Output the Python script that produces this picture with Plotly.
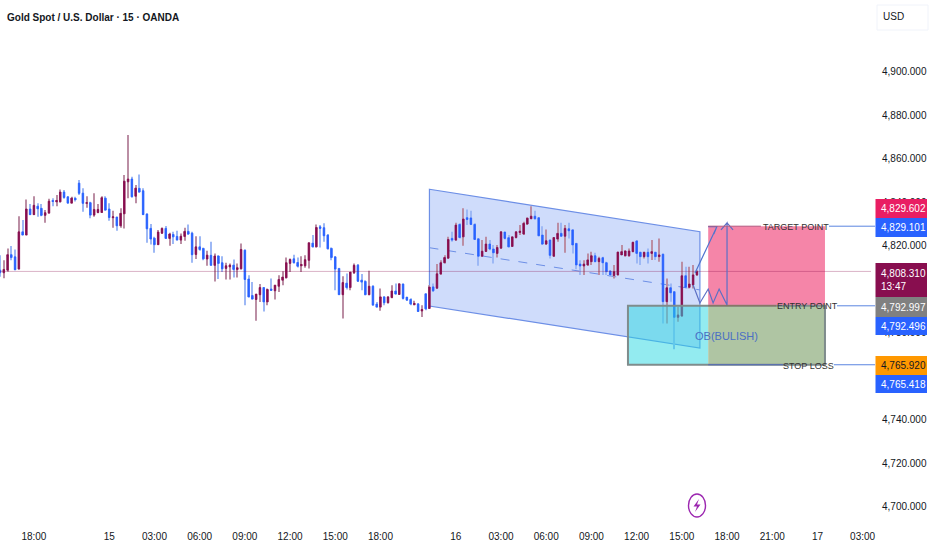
import plotly.graph_objects as go

# 15 min candles (bar index = position on the time axis)
opens = [4808.9,4807.7,4808.9,4816.0,4815.0,4809.4,4826.5,4825.0,4837.0,4834.4,4838.3,4837.3,4834.1,4835.1,4840.9,4840.3,4840.3,4844.8,4842.6,4839.7,
         4841.9,4848.9,4844.3,4839.6,4839.9,4834.2,4835.4,4835.4,4842.0,4837.0,4833.0,4833.3,4829.3,4834.8,4849.5,4850.8,4842.9,4846.5,4845.4,4834.7,
         4828.1,4823.6,4820.6,4825.9,4828.1,4823.5,4825.3,4824.4,4822.7,4824.4,4826.7,4825.9,4816.1,4819.6,4818.9,4814.0,4815.7,4811.1,4815.4,4812.3,
         4809.7,4810.4,4811.2,4809.2,4809.5,4818.1,4804.8,4797.2,4795.4,4797.6,4800.9,4794.3,4800.2,4799.4,4801.5,4804.3,4805.4,4812.0,4814.1,4812.4,
         4810.9,4810.9,4813.4,4821.3,4819.6,4828.8,4828.4,4825.0,4818.9,4815.0,4809.7,4797.6,4802.9,4800.9,4807.7,4811.2,4804.3,4803.7,4797.6,4801.5,
         4793.3,4791.9,4796.6,4793.9,4796.3,4799.3,4797.7,4802.5,4796.5,4795.4,4793.0,4793.4,4790.1,4798.0,4791.3,4801.2,4800.6,4807.1,4812.3,4814.4,
         4823.5,4822.7,4829.9,4824.2,4833.0,4832.9,4829.9,4823.3,4815.3,4817.5,4820.9,4818.6,4816.6,4819.0,4826.4,4823.8,4819.8,4823.9,4826.2,4825.5,
         4830.1,4832.5,4833.7,4833.0,4825.0,4820.9,4822.7,4815.3,4823.2,4825.8,4824.5,4827.9,4827.4,4821.2,4811.7,4810.8,4811.3,4812.8,4815.5,4812.8,
         4814.6,4812.3,4808.5,4806.4,4806.7,4815.9,4815.5,4815.5,4817.4,4822.3,4817.1,4815.1,4817.1,4816.6,4817.1,4815.1,4816.2,4794.4,4800.8,4799.0,
         4787.2,4787.8,4806.3,4801.0,4802.1,4806.7]
highs = [4815.8,4813.5,4818.9,4820.0,4818.4,4833.7,4831.9,4841.4,4839.3,4842.9,4839.6,4839.3,4836.5,4841.7,4841.9,4843.4,4846.0,4845.7,4842.9,4842.6,
         4842.6,4850.3,4846.5,4842.9,4840.3,4844.2,4839.3,4842.9,4842.9,4839.6,4836.2,4833.4,4837.3,4852.6,4871.0,4851.8,4848.0,4852.9,4846.5,4835.0,
         4830.1,4824.2,4827.3,4828.5,4829.2,4826.1,4826.5,4827.0,4825.8,4828.4,4829.9,4826.5,4824.5,4824.5,4819.2,4817.8,4821.9,4816.6,4815.8,4815.3,
         4812.3,4812.0,4813.8,4812.0,4821.2,4818.4,4806.6,4803.5,4797.9,4802.5,4800.9,4800.5,4805.1,4802.0,4806.6,4808.4,4814.7,4814.3,4816.0,4814.7,
         4815.3,4815.8,4821.5,4825.0,4829.9,4829.6,4830.4,4825.5,4819.3,4815.3,4809.7,4806.1,4807.4,4808.1,4812.0,4811.7,4807.1,4804.3,4808.6,4801.9,
         4794.3,4800.5,4796.9,4796.9,4802.0,4802.8,4802.8,4802.8,4796.6,4796.0,4794.8,4793.6,4792.8,4798.2,4802.0,4802.8,4811.7,4813.5,4815.8,4824.2,
         4826.5,4830.7,4830.4,4837.3,4836.8,4836.2,4830.4,4823.5,4822.7,4824.2,4822.7,4820.4,4820.4,4826.8,4826.5,4825.0,4824.2,4826.8,4829.6,4831.1,
         4833.1,4838.3,4836.2,4833.1,4829.1,4827.6,4823.0,4823.9,4830.7,4830.7,4829.6,4830.7,4827.7,4821.2,4813.5,4813.5,4816.6,4817.4,4816.9,4815.1,
         4815.1,4812.8,4808.9,4811.3,4817.4,4820.4,4818.1,4818.9,4822.0,4822.8,4817.4,4817.4,4818.9,4822.8,4817.4,4823.5,4816.6,4805.1,4802.8,4799.0,
         4792.1,4812.8,4810.5,4810.5,4811.3,4808.9]
lows = [4805.9,4805.2,4808.2,4813.5,4808.9,4809.2,4825.0,4825.0,4834.2,4834.2,4833.4,4833.7,4830.7,4835.0,4838.3,4838.3,4840.0,4841.7,4839.6,4839.6,
        4840.5,4843.4,4835.7,4837.6,4832.7,4833.4,4835.0,4835.3,4836.2,4831.6,4828.4,4827.0,4828.4,4828.1,4841.9,4842.3,4839.6,4844.5,4834.2,4821.5,
        4820.7,4816.9,4820.4,4825.5,4823.2,4820.1,4820.9,4822.6,4820.9,4822.4,4825.0,4812.3,4814.0,4817.8,4813.5,4810.9,4810.9,4803.7,4804.8,4808.1,
        4804.6,4804.6,4805.5,4805.5,4809.2,4792.8,4796.3,4795.4,4785.6,4794.3,4789.9,4792.7,4799.3,4795.4,4798.9,4802.0,4805.1,4808.1,4812.0,4810.1,
        4808.1,4810.0,4809.7,4819.3,4819.3,4819.3,4821.9,4818.4,4813.5,4799.7,4797.6,4786.7,4800.0,4799.7,4807.1,4803.5,4799.7,4797.4,4797.4,4792.7,
        4791.7,4790.2,4792.8,4793.6,4796.0,4797.7,4797.6,4795.4,4794.8,4792.8,4792.8,4789.7,4787.4,4790.5,4791.0,4798.9,4800.3,4806.8,4812.0,4814.1,
        4821.9,4822.4,4823.5,4820.1,4829.6,4829.6,4822.7,4810.9,4815.0,4817.2,4818.1,4812.0,4814.7,4818.7,4823.0,4819.3,4819.6,4823.5,4825.0,4825.0,
        4829.6,4832.4,4832.2,4824.5,4820.4,4820.4,4814.3,4815.0,4821.9,4824.2,4816.9,4823.5,4816.6,4809.3,4806.7,4806.7,4810.8,4811.3,4812.5,4806.7,
        4806.7,4806.7,4805.9,4805.1,4806.4,4815.9,4815.2,4815.1,4817.1,4812.0,4811.3,4814.3,4812.0,4813.6,4813.6,4812.8,4784.4,4784.4,4794.4,4772.5,
        4785.2,4787.5,4800.5,4800.5,4800.5,4806.2]
closes = [4807.7,4809.2,4816.0,4814.7,4809.1,4826.5,4825.0,4837.0,4834.4,4838.7,4837.1,4834.1,4835.3,4840.6,4840.5,4840.9,4844.8,4842.3,4839.7,4842.0,
          4841.3,4844.2,4839.6,4839.9,4834.2,4836.8,4836.8,4842.2,4836.5,4833.1,4833.4,4829.3,4835.0,4849.8,4850.8,4842.6,4846.6,4844.8,4834.4,4827.9,
          4823.2,4820.6,4826.4,4828.1,4823.5,4825.5,4824.2,4822.7,4824.5,4826.7,4825.5,4816.0,4819.6,4818.4,4814.1,4815.8,4811.1,4815.4,4812.0,4809.5,
          4810.9,4811.2,4809.2,4810.0,4818.4,4804.6,4796.6,4795.6,4797.9,4800.9,4794.3,4800.0,4799.6,4802.0,4804.6,4805.7,4812.3,4813.8,4812.3,4810.7,
          4811.5,4813.7,4821.5,4819.6,4828.5,4828.1,4824.7,4818.7,4814.7,4809.4,4797.6,4803.2,4800.9,4808.0,4811.1,4803.8,4803.4,4797.6,4801.5,4792.8,
          4791.9,4796.6,4793.9,4796.6,4799.3,4797.9,4802.6,4795.9,4795.1,4793.3,4793.6,4789.9,4790.8,4791.1,4801.1,4799.4,4807.2,4812.3,4814.7,4823.0,
          4822.7,4829.6,4823.9,4832.4,4832.2,4829.9,4823.0,4815.3,4817.6,4820.9,4818.6,4816.9,4819.3,4826.5,4823.5,4819.6,4824.2,4826.5,4826.8,4830.4,
          4832.8,4833.7,4832.5,4824.7,4820.9,4822.4,4815.7,4823.9,4825.8,4824.5,4828.1,4827.0,4820.5,4811.3,4810.8,4811.7,4813.6,4815.5,4812.8,4814.3,
          4812.3,4808.2,4806.7,4808.2,4817.2,4817.4,4817.7,4817.7,4821.7,4816.6,4815.1,4817.1,4815.1,4817.4,4815.1,4815.9,4794.4,4800.8,4798.5,4787.2,
          4788.3,4806.3,4801.0,4802.5,4806.7,4808.3]

y_ticks = [4700, 4720, 4740, 4760, 4780, 4800, 4820, 4840, 4860, 4880, 4900]
x_tick_bars = [9, 29, 41, 53, 65, 77, 89, 101, 121, 133, 145, 157, 169, 181, 193, 205, 217, 229]
x_tick_text = ["18:00", "15", "03:00", "06:00", "09:00", "12:00", "15:00", "18:00", "16", "03:00", "06:00",
               "09:00", "12:00", "15:00", "18:00", "21:00", "17", "03:00"]

last_price = 4808.31
target = 4829.1
entry = 4792.5
stop = 4765.4

# drawing tools (bars, prices)
channel_bars = [114, 185.8]
channel_top = [4846.1, 4826.6]
channel_mid = [4819.2, 4799.8]
channel_bot = [4792.4, 4773.1]
zig_bars = [184, 185.8, 188, 189.3, 190.9, 193, 193, 191.4, 193, 194.6]
zig_prices = [4802.1, 4793.8, 4800.2, 4793.8, 4800.2, 4792.9, 4830.6, 4827.4, 4830.6, 4827.4]
up_bars = [184.5, 190.3, 188, 190.3, 189.5]
up_prices = [4807.6, 4828.9, 4828.9, 4828.9, 4825.5]

UP = "#880e4f"
DOWN = "#2962ff"
FONT = "Liberation Sans, sans-serif"
W, H = 932, 550
PLOT_R, PLOT_B = 871, 522


def xp(px):
    return px / W


def yp(py):
    return 1 - py / H


def polyline(xs, ys):
    return "M " + " L ".join(f"{a} {b}" for a, b in zip(xs, ys))


bars = list(range(len(opens)))
wick_size = [h - l for h, l in zip(highs, lows)]
wick_color = ["#bb8ea4" if c >= o else "#9db8f5" for o, c in zip(opens, closes)]
body_high = [max(o, c) for o, c in zip(opens, closes)]
body_low = [min(o, c) for o, c in zip(opens, closes)]

fig = go.Figure()

# wicks are thin and wash out in the screenshot, so they get a paler colour
fig.add_trace(go.Bar(x=bars, y=wick_size, base=lows, width=0.27, marker=dict(color=wick_color, line_width=0), hoverinfo="skip"))
fig.add_trace(go.Candlestick(
    x=bars, open=opens, high=body_high, low=body_low, close=closes,
    increasing=dict(line=dict(color=UP, width=0.8), fillcolor=UP),
    decreasing=dict(line=dict(color=DOWN, width=0.8), fillcolor=DOWN),
    hoverinfo="skip",
))

shapes = []
# channel under the candles
shapes.append(dict(type="path", layer="below", xref="x", yref="y", line=dict(color="#6d8fe6", width=1.2), fillcolor="#cfdcfb",
                   path=f"M {channel_bars[0]} {channel_top[0]} L {channel_bars[1]} {channel_top[1]} "
                        f"L {channel_bars[1]} {channel_bot[1]} L {channel_bars[0]} {channel_bot[0]} Z"))
shapes.append(dict(type="line", layer="below", x0=channel_bars[0], x1=channel_bars[1], y0=channel_mid[0], y1=channel_mid[1],
                   line=dict(color="#6d8fe6", width=1, dash="dash")))

# target / stop zones and order block
shapes.append(dict(type="rect", layer="above", x0=188, x1=219, y0=entry, y1=target, fillcolor="#f585a8", line_width=0))
shapes.append(dict(type="rect", layer="above", x0=166.7, x1=188, y0=stop, y1=entry, fillcolor="rgba(40,215,225,0.5)", line_width=0))
shapes.append(dict(type="rect", layer="above", x0=188, x1=219, y0=stop, y1=entry, fillcolor="#afc5a3", line_width=0))
shapes.append(dict(type="rect", layer="above", x0=166.7, x1=219, y0=stop, y1=entry, line=dict(color="#7f8c8c", width=2)))

# last price line
shapes.append(dict(type="line", layer="above", xref="paper", x0=0, x1=xp(PLOT_R), y0=last_price, y1=last_price,
                   line=dict(color="rgba(136,14,79,0.32)", width=1)))

# projected path, drawn over the zones
shapes.append(dict(type="path", layer="above", path=polyline(up_bars, up_prices), line=dict(color="#4f74cf", width=1.2)))
shapes.append(dict(type="path", layer="above", path=polyline(zig_bars, zig_prices), line=dict(color="#5c6fc4", width=1.2)))

# level lines, left of the text and from the text to the price scale
for level, b_end, px_start, left_col in [(target, 202, 829, "#b3597f"), (entry, 206, 837, "#8c6d55"), (stop, 208, 834, "#4f68b8")]:
    shapes.append(dict(type="line", layer="above", x0=188, x1=b_end, y0=level, y1=level, line=dict(color=left_col, width=1)))
    shapes.append(dict(type="line", layer="above", xref="paper", x0=xp(px_start), x1=xp(875), y0=level, y1=level,
                       line=dict(color="#5a85e0", width=1)))

# lightning badge
shapes.append(dict(type="circle", xref="paper", yref="paper", x0=xp(688.5), x1=xp(705.5), y0=yp(517), y1=yp(494),
                   line=dict(color="#9c27b0", width=1.4)))
bolt = [(699, 499), (693.5, 506.5), (697, 506.5), (695, 512), (700.5, 504.5), (697, 504.5)]
shapes.append(dict(type="path", xref="paper", yref="paper", fillcolor="#9c27b0", line_width=0,
                   path="M " + " L ".join(f"{xp(a)} {yp(b)}" for a, b in bolt) + " Z"))

# USD box
shapes.append(dict(type="rect", xref="paper", yref="paper", x0=xp(877), x1=xp(928), y0=yp(30), y1=yp(5),
                   line=dict(color="#f0f3fa", width=1), fillcolor="white"))

annotations = [
    dict(text="<b>Gold Spot / U.S. Dollar · 15 · OANDA</b>", x=xp(4.5), y=yp(18), xref="paper", yref="paper", xanchor="left", yanchor="middle",
         showarrow=False, font=dict(family=FONT, size=10, color="#131722")),
]
for text, cx, cy, size, ink in [("USD", 893, 17, 10, "#131722"), ("OB(BULISH)", 726, 336, 11, "#4a6fc4"),
                                ("TARGET POINT", 796, 227, 9, "#333"), ("ENTRY POINT", 807, 306, 9, "#333"),
                                ("STOP LOSS", 808, 366, 9, "#333")]:
    annotations.append(dict(text=text, x=xp(cx), y=yp(cy), xref="paper", yref="paper", xanchor="center", yanchor="middle",
                            showarrow=False, font=dict(family=FONT, size=size, color=ink)))

# price labels on the scale: text, fill, text colour, top px, bottom px
price_tags = [
    ("4,829.602", "#e91e63", "white", 199, 218),
    ("4,829.101", "#2962ff", "white", 218, 237),
    ("4,808.310<br>13:47", "#880e4f", "white", 263, 297),
    ("4,792.997", "#808080", "white", 297, 317),
    ("4,792.496", "#2962ff", "white", 317, 335),
    ("4,765.920", "#ff9800", "#131722", 356, 375),
    ("4,765.418", "#2962ff", "white", 375, 393),
]
for text, fill, ink, top, bottom in price_tags:
    shapes.append(dict(type="rect", xref="paper", yref="paper", x0=xp(875.5), x1=xp(927), y0=yp(bottom), y1=yp(top), fillcolor=fill, line_width=0, layer="above"))
    annotations.append(dict(text=text, x=xp(878.5), y=yp((top + bottom) / 2), xref="paper", yref="paper", xanchor="left", yanchor="middle",
                            align="left", showarrow=False, font=dict(family=FONT, size=10, color=ink)))

fig.update_layout(
    width=W, height=H,
    margin=dict(l=0, r=0, t=0, b=0),
    paper_bgcolor="white", plot_bgcolor="white",
    showlegend=False,
    boxgap=0.4,
    shapes=shapes,
    annotations=annotations,
    xaxis=dict(domain=[0, xp(PLOT_R)], range=[0, PLOT_R / 3.767], rangeslider=dict(visible=False), showgrid=False, zeroline=False, automargin=False,
               tickmode="array", tickvals=x_tick_bars, ticktext=x_tick_text, ticks="outside", ticklen=5, tickcolor="white",
               tickfont=dict(family=FONT, size=10, color="#131722")),
    yaxis=dict(domain=[1 - PLOT_B / H, 1], range=[4693.1, 4933.1], side="right", showgrid=False, zeroline=False, automargin=False,
               tickmode="array", tickvals=y_ticks, ticktext=[f"{v:,}.000" for v in y_ticks], ticks="outside", ticklen=8, tickcolor="white",
               tickfont=dict(family=FONT, size=10, color="#131722")),
)

# the page's default body margin would push the chart off the window
fig.write_html("out.html", config={"displayModeBar": False},
               post_script="document.body.style.margin='0';document.body.style.overflow='hidden';")
